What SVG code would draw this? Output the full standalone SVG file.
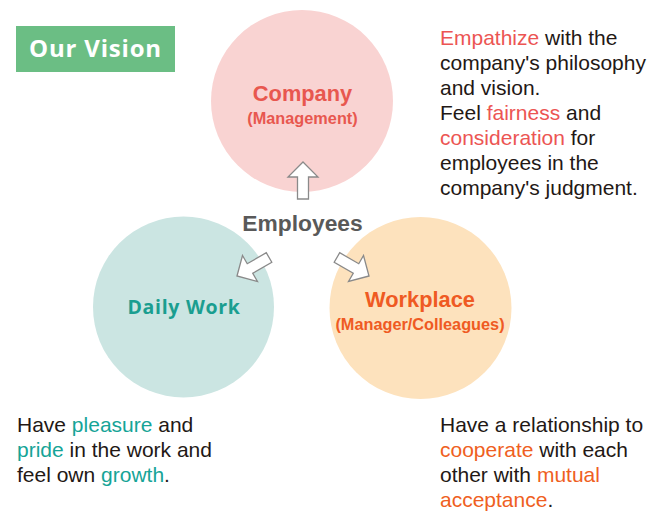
<svg xmlns="http://www.w3.org/2000/svg" width="655" height="511" viewBox="0 0 655 511">
<style>
.hd{font-family:"Liberation Sans",Arial,sans-serif;font-weight:bold;text-anchor:middle}
.body{font-family:"Liberation Sans",Arial,sans-serif;font-size:21px;fill:#231815}
.red{fill:#ec5553}
.teal{fill:#16a497}
.org{fill:#ef5f22}
.arrow{fill:#ffffff;stroke:#8a8a8a;stroke-width:1.3;stroke-linejoin:miter}
</style>
<defs>
<path id="arr" d="M0,0 L15,15 L5.5,15 L5.5,37 L-5.5,37 L-5.5,15 L-15,15 Z"/>
</defs>
<rect width="655" height="511" fill="#ffffff"/>
<g id="title">
<rect x="16" y="26" width="159" height="46" fill="#6bbe84"/>
<text x="95.5" y="57" font-family="'Open Sans',sans-serif" font-weight="bold" font-size="24" letter-spacing="0.8" fill="#ffffff" text-anchor="middle">Our Vision</text>
</g>
<g id="company">
<circle cx="302" cy="101" r="91" fill="#f9d3d2"/>
<text class="hd" x="302.5" y="101" font-size="21.8" fill="#e8574f">Company</text>
<text class="hd" x="302.5" y="124" font-size="16.3" fill="#e8574f">(Management)</text>
</g>
<g id="dailywork">
<circle cx="183.5" cy="307" r="90.5" fill="#cbe5e2"/>
<text x="184" y="314" font-family="'Open Sans',sans-serif" font-weight="bold" font-size="19.5" letter-spacing="0.7" fill="#1a9e90" text-anchor="middle">Daily Work</text>
</g>
<g id="workplace">
<circle cx="420.5" cy="308" r="91" fill="#fde2bd"/>
<text class="hd" x="420" y="307" font-size="21.8" fill="#ef5a23">Workplace</text>
<text class="hd" x="420" y="330" font-size="16.3" fill="#ef5a23">(Manager/Colleagues)</text>
</g>
<g id="employees">
<text class="hd" x="302.5" y="231" font-size="22.8" fill="#595959">Employees</text>
</g>
<g id="connectors">
<use href="#arr" class="arrow" transform="translate(303,162)"/>
<use href="#arr" class="arrow" transform="translate(237,276) rotate(-120)"/>
<use href="#arr" class="arrow" transform="translate(369,276) rotate(120)"/>
</g>
<g id="text-company">
<text class="body"><tspan x="440" y="45"><tspan class="red">Empathize</tspan> with the</tspan><tspan x="440" y="70">company's philosophy</tspan><tspan x="440" y="95">and vision.</tspan><tspan x="440" y="120">Feel <tspan class="red">fairness</tspan> and</tspan><tspan x="440" y="145"><tspan class="red">consideration</tspan> for</tspan><tspan x="440" y="170">employees in the</tspan><tspan x="440" y="195">company's judgment.</tspan></text>
</g>
<g id="text-daily">
<text class="body"><tspan x="17" y="432">Have <tspan class="teal">pleasure</tspan> and</tspan><tspan x="17" y="457"><tspan class="teal">pride</tspan> in the work and</tspan><tspan x="17" y="482">feel own <tspan class="teal">growth</tspan>.</tspan></text>
</g>
<g id="text-workplace">
<text class="body"><tspan x="440" y="432">Have a relationship to</tspan><tspan x="440" y="457"><tspan class="org">cooperate</tspan> with each</tspan><tspan x="440" y="482">other with <tspan class="org">mutual</tspan></tspan><tspan x="440" y="507"><tspan class="org">acceptance</tspan>.</tspan></text>
</g>
</svg>
